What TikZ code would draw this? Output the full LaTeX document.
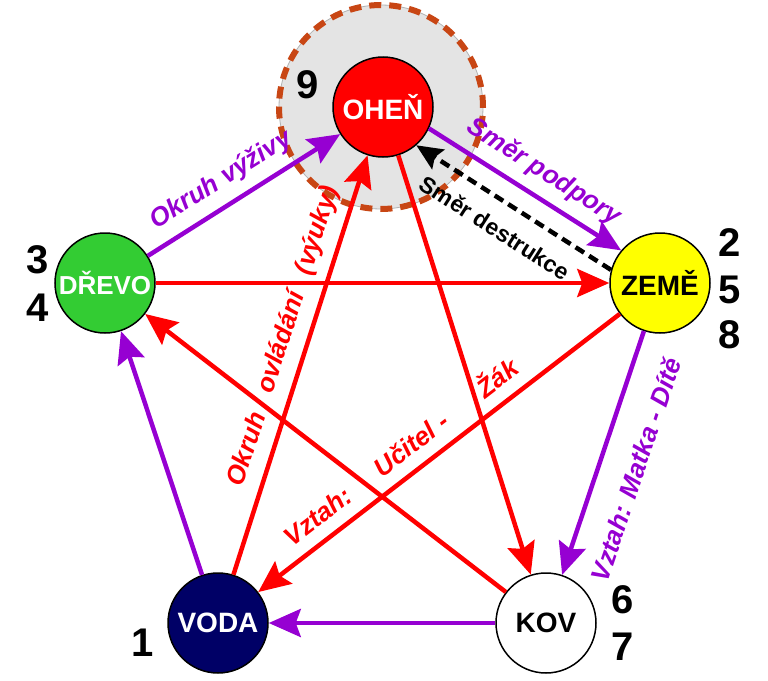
\documentclass[tikz,border=0pt]{standalone}
\usepackage{fontspec}
\setmainfont{Liberation Sans}
\usetikzlibrary{arrows.meta}
\definecolor{fialova}{RGB}{150,0,210}
\definecolor{cervena}{RGB}{255,0,0}
\definecolor{zelena}{RGB}{51,204,51}
\definecolor{zluta}{RGB}{255,255,0}
\definecolor{modra}{RGB}{0,0,102}
\definecolor{sedokruh}{RGB}{228,228,228}
\definecolor{rezava}{RGB}{200,70,20}
\tikzset{
    prvek/.style={circle, draw=black, line width=1.5pt, minimum size=100pt, inner sep=0pt,
        font=\fontsize{28}{32}\selectfont\bfseries},
    cislo/.style={font=\fontsize{40}{44}\selectfont\bfseries, inner sep=0pt},
    podpora/.style={fialova, line width=4.5pt, -{Stealth[length=32pt,width=28pt,inset=5pt]}},
    ovladani/.style={cervena, line width=4.5pt, -{Stealth[length=32pt,width=28pt,inset=5pt]}},
    destrukce/.style={black, line width=4.5pt, dash pattern=on 10pt off 6pt,
        -{Stealth[length=26pt,width=23pt,inset=4pt]}},
    popis/.style={sloped, font=\fontsize{26}{30}\selectfont\bfseries\itshape, inner sep=10pt},
}

\begin{document}
\begin{tikzpicture}[x=1pt, y=-1pt]
    \useasboundingbox (0,0) rectangle (768,680);
    % zona ohne
    \node[circle, minimum size=204pt, fill=sedokruh, draw=gray!60, line width=0.8pt,
        postaction={draw=rezava, line width=6pt, dash pattern=on 12pt off 8pt}] (zona) at (381,107) {};
    % prvky
    \node[prvek, fill=cervena, text=white] (ohen)  at (383,107) {OHEŇ};
    \node[prvek, fill=zelena, text=white, font=\fontsize{26}{30}\selectfont\bfseries] (drevo) at (105,283) {DŘEVO};
    \node[prvek, fill=zluta]               (zeme)  at (660,283) {ZEMĚ};
    \node[prvek, fill=white]               (kov)   at (546,623) {KOV};
    \node[prvek, fill=modra, text=white]   (voda)  at (218,623) {VODA};
    % cisla
    \node[cislo] (c9) at (308,85)  {9};
    \node[cislo] (c3) at (38,260)  {3};
    \node[cislo] (c4) at (38,308)  {4};
    \node[cislo] (c2) at (730,243) {2};
    \node[cislo] (c5) at (730,290) {5};
    \node[cislo] (c8) at (730,335) {8};
    \node[cislo] (c6) at (623,600) {6};
    \node[cislo] (c7) at (623,647) {7};
    \node[cislo] (c1) at (143,643) {1};
    % okruh vyzivy
    \draw[podpora] (drevo) -- node[popis, above, pos=0.45] {Okruh výživy} (ohen);
    \draw[podpora] (ohen.-25) -- node[popis, above, pos=0.53] {Směr podpory} (zeme.140);
    \draw[podpora] (zeme) -- node[popis, below, pos=0.52, inner sep=24pt] {Vztah: Matka - Dítě} (kov);
    \draw[podpora] (kov) -- (voda);
    \draw[podpora] (voda) -- (drevo);
    \draw[destrukce] (zeme.165) -- node[sloped, below, pos=0.52, inner sep=16pt,
        font=\fontsize{23}{27}\selectfont\bfseries] {Směr destrukce} (ohen.-49);
    % okruh ovladani
    \draw[ovladani] (drevo) -- (zeme);
    \draw[ovladani] (zeme) -- node[popis, above, pos=0.565, inner sep=12pt]
        {Vztah:\hspace{26pt} Učitel -\hspace{36pt} Žák} (voda);
    \draw[ovladani] (voda) -- node[popis, above, pos=0.55]
        {Okruh\hspace{14pt} ovládání\hspace{12pt} (výuky)} (ohen);
    \draw[ovladani] (ohen) -- (kov);
    \draw[ovladani] (kov) -- (drevo);
\end{tikzpicture}
\end{document}
